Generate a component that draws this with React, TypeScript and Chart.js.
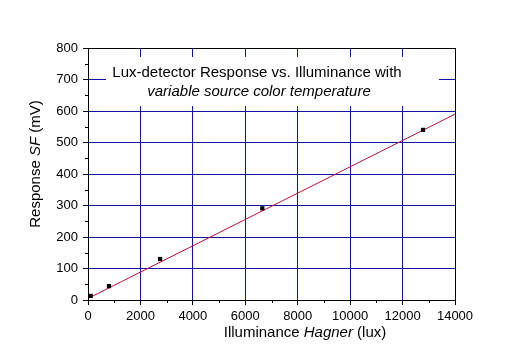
import React, { useEffect, useRef } from "react";
import { Chart, registerables } from "chart.js";
Chart.register(...registerables);

// Measured points (illuminance in lux, response in mV)
const measuredIlluminance = [100, 800, 2750, 6650, 12780];
const measuredResponse = [13, 44, 130, 291, 540];
// Linear fit line end points
const fitIlluminance = [0, 14000];
const fitResponse = [5, 590];
// Axis ranges / tick steps
const xMin = 0, xMax = 14000, xStep = 2000, xMinorStep = 1000;
const yMin = 0, yMax = 800, yStep = 100, yMinorStep = 50;
const titleLines = ["Lux-detector Response vs. Illuminance with", "variable source color temperature"];
const xTitleParts = [["Illuminance ", false], ["Hagner", true], [" (lux)", false]] as [string, boolean][];
const yTitleParts = [["Response ", false], ["SF", true], [" (mV)", false]] as [string, boolean][];

const FONT = '"Liberation Sans", Arial, sans-serif';
const GRID = "#1414a0";
const RED = "#c0103a";

function drawParts(ctx: CanvasRenderingContext2D, parts: [string, boolean][], cx: number, cy: number, size: number) {
  let total = 0;
  const widths = parts.map(([t, it]) => {
    ctx.font = `${it ? "italic " : ""}${size}px ${FONT}`;
    const w = ctx.measureText(t).width;
    total += w;
    return w;
  });
  let x = cx - total / 2;
  ctx.textBaseline = "middle";
  ctx.textAlign = "left";
  parts.forEach(([t, it], i) => {
    ctx.font = `${it ? "italic " : ""}${size}px ${FONT}`;
    ctx.fillText(t, x, cy);
    x += widths[i];
  });
}

const decorPlugin = {
  id: "decor",
  beforeDatasetsDraw(chart: any) {
    const { ctx, chartArea: a } = chart;
    ctx.save();
    ctx.fillStyle = "#ffffff";
    ctx.fillRect(a.left + 18, a.top + 9, 333, 49);
    ctx.restore();
  },
  afterDraw(chart: any) {
    const { ctx, chartArea: a, scales } = chart;
    const xs = scales.x, ys = scales.y;
    ctx.save();
    // minor ticks
    ctx.strokeStyle = "#000";
    ctx.lineWidth = 1;
    ctx.beginPath();
    for (let v = yMin + yMinorStep; v < yMax; v += yStep) {
      const y = Math.round(ys.getPixelForValue(v)) + 0.5;
      ctx.moveTo(a.left - 3, y);
      ctx.lineTo(a.left, y);
    }
    for (let v = xMin + xMinorStep; v < xMax; v += xStep) {
      const x = Math.round(xs.getPixelForValue(v)) + 0.5;
      ctx.moveTo(x, a.bottom);
      ctx.lineTo(x, a.bottom + 3);
    }
    ctx.stroke();
    // frame
    ctx.strokeRect(Math.round(a.left) + 0.5, Math.round(a.top) + 0.5, Math.round(a.right - a.left), Math.round(a.bottom - a.top));
    // title
    ctx.fillStyle = "#000";
    ctx.textAlign = "center";
    ctx.textBaseline = "alphabetic";
    ctx.font = `15px ${FONT}`;
    ctx.fillText(titleLines[0], 257, 77);
    ctx.font = `italic 15px ${FONT}`;
    ctx.fillText(titleLines[1], 259, 96);
    // axis titles
    drawParts(ctx, xTitleParts, 305, 333, 15);
    ctx.translate(36, 164);
    ctx.rotate(-Math.PI / 2);
    drawParts(ctx, yTitleParts, 0, 0, 15);
    ctx.restore();
  },
};

export default function App() {
  const ref = useRef<HTMLCanvasElement>(null);
  useEffect(() => {
    if (!ref.current) return;
    const gridColor = (c: any) =>
      c.tick && (c.tick.value === c.scale.min || c.tick.value === c.scale.max) ? "rgba(0,0,0,0)" : GRID;
    const chart = new Chart(ref.current, {
      type: "scatter",
      data: {
        datasets: [
          {
            label: "fit",
            data: fitIlluminance.map((x, i) => ({ x, y: fitResponse[i] })),
            showLine: true,
            borderColor: RED,
            borderWidth: 1,
            pointRadius: 0,
            order: 2,
          },
          {
            label: "measured",
            data: measuredIlluminance.map((x, i) => ({ x, y: measuredResponse[i] })),
            pointStyle: "rect",
            pointRadius: 3,
            backgroundColor: "#000",
            borderColor: "#000",
            borderWidth: 0,
            order: 1,
          },
        ],
      },
      options: {
        animation: false,
        responsive: false,
        devicePixelRatio: 1,
        layout: { padding: { top: 48, right: 70, left: 0, bottom: 0 } },
        plugins: { legend: { display: false }, tooltip: { enabled: false }, title: { display: false } },
        scales: {
          x: {
            type: "linear",
            min: xMin,
            max: xMax,
            ticks: {
              stepSize: xStep,
              color: "#000",
              font: { family: FONT, size: 13 },
              padding: 4,
              maxRotation: 0,
              callback: (v: any) => String(v),
            },
            grid: { color: gridColor, tickColor: "#000", tickLength: 5, lineWidth: 1 },
            border: { display: false },
            afterFit: (s: any) => { s.height = 60; },
          },
          y: {
            type: "linear",
            min: yMin,
            max: yMax,
            ticks: { stepSize: yStep, color: "#000", font: { family: FONT, size: 13 }, padding: 5, callback: (v: any) => String(v) },
            grid: { color: gridColor, tickColor: "#000", tickLength: 5, lineWidth: 1 },
            border: { display: false },
            afterFit: (s: any) => { s.width = 88; },
          },
        },
      },
      plugins: [decorPlugin],
    } as any);
    return () => chart.destroy();
  }, []);
  return (
    <div style={{ position: "fixed", left: 0, top: 0, width: 525, height: 360, background: "#fff" }}>
      <canvas ref={ref} width={525} height={360} />
    </div>
  );
}
